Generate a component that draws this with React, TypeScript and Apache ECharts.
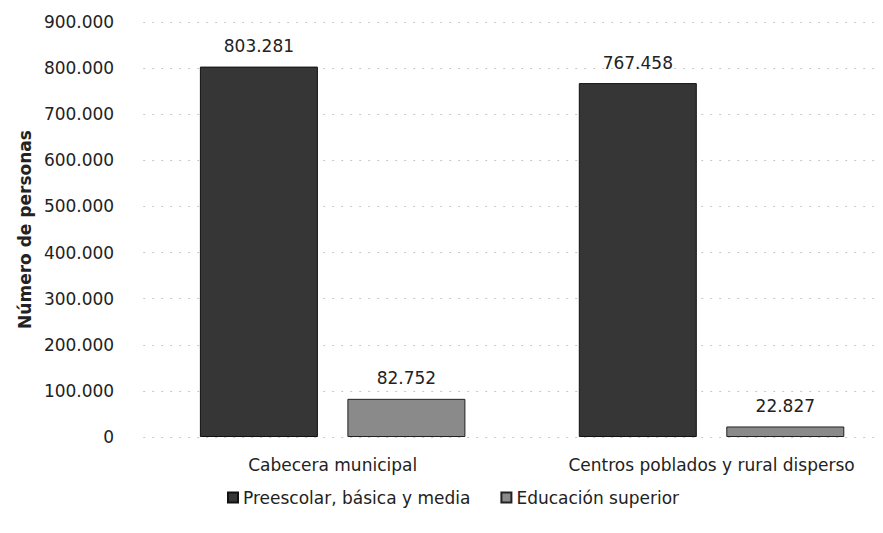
import React, { useEffect, useRef } from "react";
import * as echarts from "echarts";

const categories = ["Cabecera municipal", "Centros poblados y rural disperso"];
const seriesNames = ["Preescolar, básica y media", "Educación superior"];
const basicaValues = [803281, 767458];
const superiorValues = [82752, 22827];
const yTicks = [0, 100000, 200000, 300000, 400000, 500000, 600000, 700000, 800000, 900000];

const fmt = (v: number) => String(Math.round(v)).replace(/\B(?=(\d{3})+(?!\d))/g, ".");

const FONT = "'DejaVu Sans', 'Noto Sans', sans-serif";
const FS = 17;

export default function App() {
  const ref = useRef<HTMLDivElement>(null);
  useEffect(() => {
    if (!ref.current) return;
    const chart = echarts.init(ref.current, undefined, { renderer: "svg" });
    chart.setOption({
      animation: false,
      textStyle: { fontFamily: FONT },
      grid: { left: 133, right: 0, top: 14, bottom: 88, containLabel: false },
      legend: {
        bottom: 14,
        left: 214,
        itemWidth: 10,
        itemHeight: 10,
        itemGap: 30,
        icon: "rect",
        textStyle: { fontFamily: FONT, fontSize: FS, color: "#222" },
        data: seriesNames,
      },
      xAxis: {
        type: "category",
        data: categories,
        axisLine: { show: false },
        axisTick: { show: false },
        axisLabel: { fontFamily: FONT, fontSize: FS, color: "#222", margin: 19 },
      },
      yAxis: {
        type: "value",
        min: yTicks[0],
        max: yTicks[yTicks.length - 1],
        interval: 100000,
        name: "Número de personas",
        nameLocation: "middle",
        nameGap: 110,
        nameTextStyle: { fontFamily: FONT, fontSize: FS, fontWeight: "bold", color: "#222" },
        axisLine: { show: false },
        axisTick: { show: false },
        axisLabel: {
          fontFamily: FONT,
          fontSize: FS,
          color: "#222",
          margin: 29,
          formatter: (v: number) => fmt(v),
        },
        splitLine: { show: true, lineStyle: { color: "#c8c8c8", type: [2, 7], width: 1 } },
      },
      series: [
        {
          name: seriesNames[0],
          type: "bar",
          data: basicaValues,
          barWidth: 118,
          barGap: "25%",
          itemStyle: { color: "#363636", borderColor: "#111", borderWidth: 1 },
          label: {
            show: true,
            position: "top",
            distance: 12,
            fontFamily: FONT,
            fontSize: FS,
            color: "#222",
            formatter: (p: any) => fmt(p.value),
          },
        },
        {
          name: seriesNames[1],
          type: "bar",
          data: superiorValues,
          barWidth: 118,
          itemStyle: { color: "#8a8a8a", borderColor: "#222", borderWidth: 1 },
          label: {
            show: true,
            position: "top",
            distance: 12,
            fontFamily: FONT,
            fontSize: FS,
            color: "#222",
            formatter: (p: any) => fmt(p.value),
          },
        },
      ],
    });
    return () => chart.dispose();
  }, []);
  return (
    <div style={{ width: 867, height: 517, overflow: "hidden" }}>
      <div ref={ref} style={{ width: 893, height: 517 }} />
    </div>
  );
}
